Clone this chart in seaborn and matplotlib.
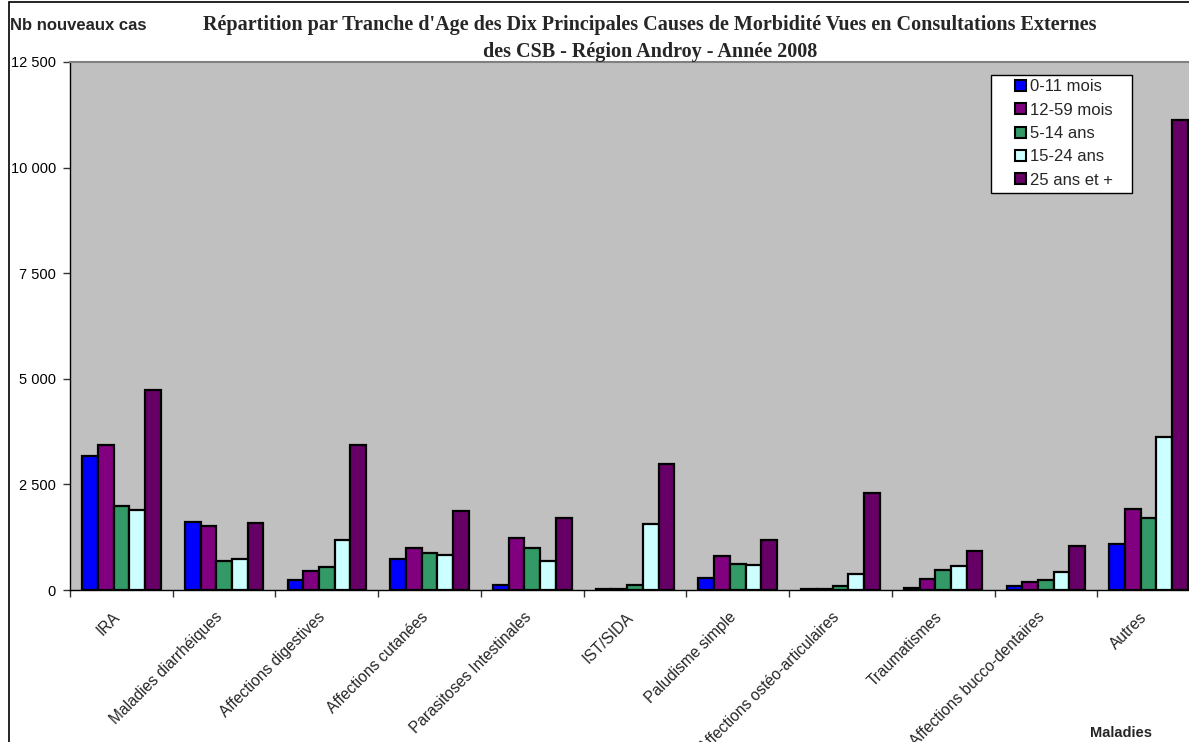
import pandas as pd
import numpy as np
import matplotlib.pyplot as plt
import matplotlib.transforms as mtransforms
from matplotlib.patches import Rectangle
from matplotlib.ticker import FuncFormatter, FixedLocator
import seaborn as sns

# ==============================================================================
# Données
# ==============================================================================
maladies = ['IRA', 'Maladies diarrhéiques', 'Affections digestives',
            'Affections cutanées', 'Parasitoses Intestinales', 'IST/SIDA',
            'Paludisme simple', 'Affections ostéo-articulaires', 'Traumatismes',
            'Affections bucco-dentaires', 'Autres']
tranches = ['0-11 mois', '12-59 mois', '5-14 ans', '15-24 ans', '25 ans et +']

cas_0_11m = [3170, 1610, 226, 724, 114, 15, 273, 12, 59, 95, 1081]
cas_12_59m = [3432, 1524, 456, 993, 1223, 20, 803, 15, 257, 196, 1923]
cas_5_14a = [1983, 677, 551, 883, 993, 123, 622, 83, 463, 229, 1696]
cas_15_24a = [1888, 724, 1183, 819, 684, 1563, 598, 375, 558, 433, 3626]
cas_25_plus = [4738, 1587, 3432, 1864, 1705, 2973, 1176, 2292, 930, 1041, 11116]

couleurs = ['#0000FF', '#800080', '#339966', '#CCFFFF', '#660066']
graduations_y = [0, 2500, 5000, 7500, 10000, 12500]

df = pd.DataFrame({
    'Maladie': maladies * 5,
    'Tranche': np.repeat(tranches, len(maladies)),
    'Cas': cas_0_11m + cas_12_59m + cas_5_14a + cas_15_24a + cas_25_plus,
})

# ==============================================================================
# Graphique
# ==============================================================================
sns.set_theme(style='white')
plt.rcParams['font.family'] = ['Liberation Sans', 'DejaVu Sans']

W, H = 1189, 742
fig = plt.figure(figsize=(W / 100, H / 100), dpi=100)
ax = fig.add_axes([70 / W, 1 - 590 / H, (1200 - 70) / W, 528 / H])
ax.set_facecolor('#C0C0C0')

sns.barplot(data=df, x='Maladie', y='Cas', hue='Tranche', hue_order=tranches,
            order=maladies, palette=couleurs, width=0.765, edgecolor='black',
            linewidth=1.6, saturation=1, ax=ax, legend=False)

ax.set_xlim(-0.5, len(maladies) - 0.5)
ax.set_ylim(0, 12500)
ax.set_yticks(graduations_y)
ax.yaxis.set_major_formatter(FuncFormatter(lambda v, p: f'{int(v):,}'.replace(',', ' ')))
ax.tick_params(axis='y', which='major', left=True, length=5, width=1,
               color='#333333', pad=5, labelsize=10.5, labelcolor='black')

# étiquettes au centre, traits entre les catégories
ax.set_xticks(range(len(maladies)))
ax.set_xticklabels(maladies, rotation=45, ha='right', va='top',
                   rotation_mode='anchor', fontsize=11.2)
ax.tick_params(axis='x', which='major', bottom=True, length=0, pad=14)
ax.xaxis.set_minor_locator(FixedLocator(np.arange(-0.5, len(maladies), 1.0)))
ax.tick_params(axis='x', which='minor', bottom=True, length=5, width=1, color='#333333')
decal = mtransforms.ScaledTranslation(-9 / 100, 0, fig.dpi_scale_trans)
for lab in ax.get_xticklabels():
    lab.set_transform(lab.get_transform() + decal)

ax.set_xlabel('')
ax.set_ylabel('')
ax.grid(False)
for cote in ['left', 'bottom']:
    ax.spines[cote].set_color('black')
    ax.spines[cote].set_linewidth(1)
ax.spines['top'].set_color('#808080')
ax.spines['top'].set_linewidth(1.5)
ax.spines['right'].set_visible(False)

# Légende : cadre blanc dessiné à part, légende sans cadre à l'intérieur
fig.patches.append(Rectangle((991 / W, 1 - 193 / H), 141 / W, 118 / H,
                             transform=fig.transFigure, facecolor='white',
                             edgecolor='black', linewidth=1, zorder=5))
poignees = [Rectangle((0, 0), 1, 1, facecolor=c, edgecolor='black', linewidth=1.5)
            for c in couleurs]
leg = fig.legend(poignees, tranches, loc='upper left',
                 bbox_to_anchor=(1012 / W, 1 - 76 / H), fontsize=12,
                 frameon=False, handlelength=0.62, handleheight=0.62,
                 handletextpad=0.25, labelspacing=0.5, borderpad=0.2,
                 borderaxespad=0)
leg.set_zorder(6)

# Titres
fig.text(650 / W, 1 - 25 / H,
         "Répartition par Tranche d'Age des Dix Principales Causes de Morbidité Vues en Consultations Externes",
         ha='center', va='center', fontsize=14.5, fontweight='bold', family='Liberation Serif')
fig.text(650 / W, 1 - 52 / H, 'des CSB - Région Androy - Année 2008',
         ha='center', va='center', fontsize=14.5, fontweight='bold', family='Liberation Serif')
fig.text(10 / W, 1 - 26 / H, 'Nb nouveaux cas', ha='left', va='center',
         fontsize=12, fontweight='bold')
fig.text(1090 / W, 1 - 733 / H, 'Maladies', ha='left', va='center',
         fontsize=10.5, fontweight='bold')

# Cadre du graphique
fig.patches.append(Rectangle((9 / W, -0.1), 1.2, 1.1 - 2 / H, transform=fig.transFigure,
                             fill=False, edgecolor='black', linewidth=1.2, clip_on=False))

plt.savefig('out.png', dpi=100)
